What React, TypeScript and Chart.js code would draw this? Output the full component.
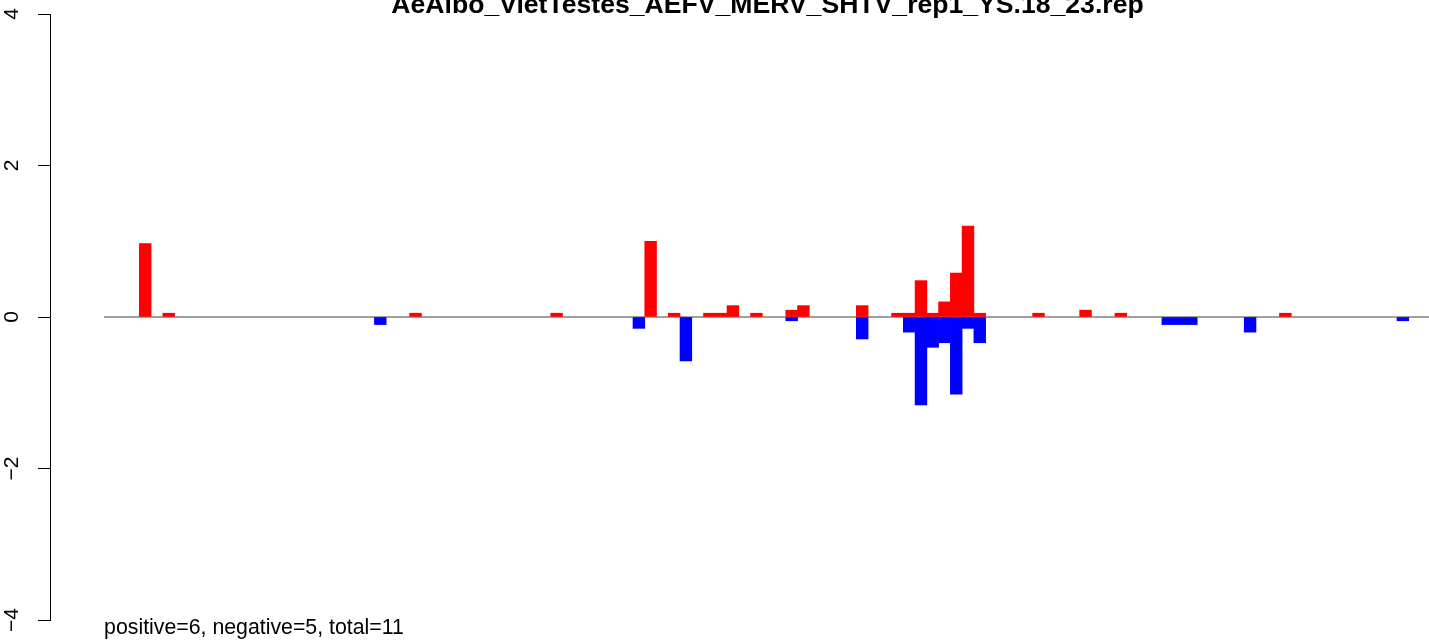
import React, { useEffect, useRef } from "react";
import { Chart, registerables } from "chart.js";

Chart.register(...registerables);

const TITLE = "AeAlbo_VietTestes_AEFV_MERV_SHTV_rep1_YS.18_23.rep";
const FOOTNOTE = "positive=6, negative=5, total=11";

// number of bins visible on the x axis (bin index 0 starts where the zero line starts)
const BIN_COUNT = 113;

// positive (red) bars: bin index and value
const POS_BINS = [3, 5, 26, 38, 46, 48, 51, 52, 53, 55, 58, 59, 64, 67, 68, 69, 70, 71, 72, 73, 74, 79, 83, 86, 100];
const POS_VALUES = [0.97, 0.05, 0.05, 0.05, 1.0, 0.05, 0.05, 0.05, 0.15, 0.05, 0.09, 0.15, 0.15, 0.05, 0.05, 0.48, 0.05, 0.2, 0.58, 1.2, 0.05, 0.05, 0.09, 0.05, 0.05];

// negative (blue) bars: bin index and value
const NEG_BINS = [23, 45, 49, 58, 64, 68, 69, 70, 71, 72, 73, 74, 90, 91, 92, 97, 110];
const NEG_VALUES = [-0.1, -0.15, -0.58, -0.05, -0.29, -0.2, -1.16, -0.4, -0.34, -1.02, -0.15, -0.34, -0.1, -0.1, -0.1, -0.2, -0.05];

const Y_TICKS = [-4, -2, 0, 2, 4];
const Y_TICK_LABELS = ["\u22124", "\u22122", "0", "2", "4"];

const FONT = '"Liberation Sans", Arial, Helvetica, sans-serif';

const textPlugin = {
  id: "rTexts",
  afterDraw(chart: any) {
    const ctx = chart.ctx;
    const xs = chart.scales.x;
    ctx.save();
    ctx.fillStyle = "#000";
    ctx.font = `bold 26.6px ${FONT}`;
    ctx.textAlign = "center";
    ctx.textBaseline = "alphabetic";
    ctx.fillText(TITLE, 767.5, 13);
    ctx.font = `21.3px ${FONT}`;
    ctx.textAlign = "left";
    ctx.fillText(FOOTNOTE, xs.getPixelForValue(0), 634);
    ctx.restore();
  },
};

export default function App() {
  const ref = useRef<HTMLCanvasElement | null>(null);

  useEffect(() => {
    if (!ref.current) return;
    const chart = new Chart(ref.current, {
      type: "bar",
      data: {
        datasets: [
          {
            type: "line",
            data: [
              { x: 0, y: 0 },
              { x: BIN_COUNT + 1, y: 0 },
            ],
            borderColor: "#808080",
            borderWidth: 1.3,
            pointRadius: 0,
            order: 10,
          } as any,
          {
            type: "bar",
            stack: "s",
            data: POS_BINS.map((b, i) => ({ x: b + 0.5, y: POS_VALUES[i] })),
            backgroundColor: "#ff0000",
            borderWidth: 0,
            categoryPercentage: 1,
            barPercentage: 1,
            order: 1,
          } as any,
          {
            type: "bar",
            stack: "s",
            data: NEG_BINS.map((b, i) => ({ x: b + 0.5, y: NEG_VALUES[i] })),
            backgroundColor: "#0000ff",
            borderWidth: 0,
            categoryPercentage: 1,
            barPercentage: 1,
            order: 1,
          } as any,
        ],
      },
      options: {
        animation: false,
        responsive: false,
        layout: { padding: { top: 14, bottom: 20, left: 0, right: 0 } },
        plugins: {
          legend: { display: false },
          tooltip: { enabled: false },
          title: { display: false },
        },
        scales: {
          x: {
            type: "linear",
            min: -4.6,
            max: 112.72,
            offset: false,
            display: false,
            stacked: true,
          },
          y: {
            type: "linear",
            min: -4,
            max: 4,
            afterBuildTicks: (s: any) => {
              s.ticks = Y_TICKS.map((v) => ({ value: v }));
            },
            afterFit: (s: any) => {
              s.width = 50;
              s.paddingTop = 0;
              s.paddingBottom = 0;
            },
            ticks: {
              callback: (v: any) => {
                const i = Y_TICKS.indexOf(Number(v));
                return i >= 0 ? Y_TICK_LABELS[i] : "";
              },
              minRotation: 90,
              maxRotation: 90,
              crossAlign: "center",
              padding: 13.5,
              color: "#000",
              font: { family: FONT, size: 21 },
            },
            grid: {
              drawOnChartArea: false,
              drawTicks: true,
              tickLength: 12,
              color: "#000",
              lineWidth: 1,
            },
            border: { display: true, color: "#000", width: 1 },
          } as any,
        },
      },
      plugins: [textPlugin],
    });
    return () => chart.destroy();
  }, []);

  return (
    <div style={{ position: "absolute", left: 0, top: 0, width: 1429, height: 640, background: "#fff" }}>
      <canvas ref={ref} width={1429} height={640} style={{ display: "block" }} />
    </div>
  );
}
